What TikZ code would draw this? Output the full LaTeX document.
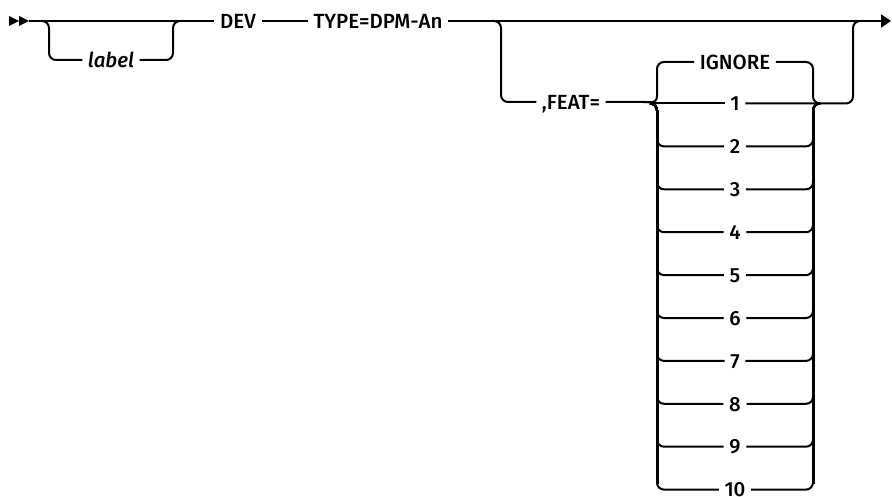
\documentclass[tikz,border=0pt]{standalone}
\usepackage{fontspec}
\setmainfont{Fira Sans}[UprightFont={* Medium},ItalicFont={* Medium Italic}]
\usetikzlibrary{arrows.meta}
\begin{document}
\begin{tikzpicture}[x=1pt,y=-1pt,
  rr/.style={line width=2pt, rounded corners=7pt},
  bar/.style={line width=3pt},
  kw/.style={inner xsep=5.5pt, inner ysep=0pt, text height=14.5pt, text depth=0pt,
             font=\fontsize{20.5}{20.5}\selectfont},
  var/.style={kw, font=\fontsize{20.5}{20.5}\selectfont\itshape},
  ]
\useasboundingbox (0,0) rectangle (892,497);

% nodes
\node[kw] (dev) at (238,21) {DEV};
\node[kw] (type) at (378,21) {TYPE=DPM-An};
\node[var] (lbl) at (111,60) {label};
\node[kw] (feat) at (571,102) {,FEAT=};
\node[kw] (ign) at (735,62) {IGNORE};
\foreach \k in {1,...,10}{
  \node[kw] (o\k) at (735,{103.5+(\k-1)*42.9}) {\k};
}
\coordinate (start) at (29,21);
\coordinate (end) at (891,21);

% start double arrowhead
\fill (9,16) -- (19,21) -- (9,26) -- cycle;
\fill (19,16) -- (29,21) -- (19,26) -- cycle;

% main line
\draw[rr] (start) -- (dev.west);
\draw[rr] (dev.east) -- (type.west);
\draw[rr,-{Triangle[length=10pt,width=13pt]}] (type.east) -- (end);

% optional label
\draw[rr] (41,21) -- (49,21) -- (49,60) -- (lbl.west);
\draw[rr] (lbl.east) -- (173,60) -- (173,21) -- (181,21);

% optional ,FEAT=
\draw[rr] (493,21) -- (501,21) -- (501,102) -- (feat.west);
\draw[rr] (feat.east) -- (650,102) -- (657,103.5) -- (657,62) -- (ign.west);
\draw[rr] (650,103.5) -- (o1.west);
\draw[rr] (ign.east) -- (813,62) -- (813,103.5) -- (820,103.5);
\draw[rr] (o1.east) -- (853,103.5) -- (853,21) -- (861,21);
\foreach \k in {2,...,10}{
  \draw[rr] (650,103.5) -- (657,103.5) -- (657,{103.5+(\k-1)*42.9}) -- (o\k.west);
  \draw[rr] (o\k.east) -- (813,{103.5+(\k-1)*42.9}) -- (813,103.5) -- (820,103.5);
}
\draw[bar] (657,110) -- (657,484);
\draw[bar] (813,110) -- (813,484);
\end{tikzpicture}
\end{document}
